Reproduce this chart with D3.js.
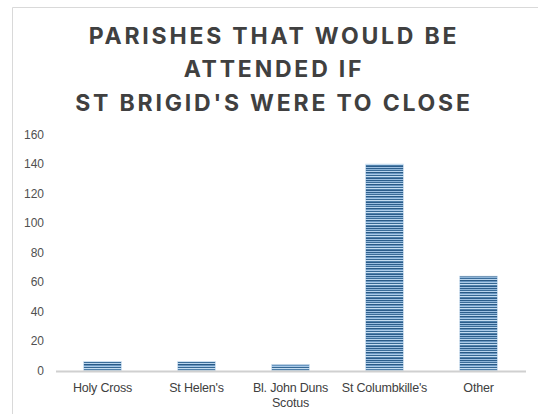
<!DOCTYPE html>
<html><head><meta charset="utf-8">
<script src="https://cdn.jsdelivr.net/npm/d3@7"></script>
<style>body{margin:0;background:#fff}svg{display:block}</style>
</head><body>
<script>
const categories = ["Holy Cross","St Helen's","Bl. John Duns Scotus","St Columbkille's","Other"];
const categoryLines = [["Holy Cross"],["St Helen's"],["Bl. John Duns","Scotus"],["St Columbkille's"],["Other"]];
const values = [6, 6, 4, 140, 64];
const yTicks = [0,20,40,60,80,100,120,140,160];
const titleLines = ["PARISHES THAT WOULD BE","ATTENDED IF","ST BRIGID'S WERE TO CLOSE"];

const W = 538, H = 414;
const svg = d3.select("body").append("svg").attr("width", W).attr("height", H);

// pattern
const defs = svg.append("defs");
const pat = defs.append("pattern").attr("id","stripes").attr("patternUnits","userSpaceOnUse")
  .attr("width", 40).attr("height", 12);
const stripeColors = ["#2d5f8c","#8db4d8","#3b6d99","#b9d5ee","#2a5a86","#6a98c2","#a9c9e8","#356893","#c6ddf1","#4f80ab","#2c5d8a","#9dc0e2"];
pat.selectAll("rect").data(stripeColors).join("rect")
  .attr("x",0).attr("y",(d,i)=>i).attr("width",40).attr("height",1).attr("fill",d=>d);

// border
svg.append("path").attr("d","M12.5,414 L12.5,7.5 L538,7.5").attr("fill","none").attr("stroke","#d9d9d9").attr("stroke-width",1);

// title
svg.append("g").selectAll("text").data(titleLines).join("text")
  .attr("x", 274).attr("y",(d,i)=>43.5 + i*33.5)
  .attr("text-anchor","middle")
  .attr("font-family","Inter, 'Open Sans', sans-serif")
  .attr("font-weight",700).attr("font-size",23).attr("letter-spacing",2.8)
  .attr("fill","#404040").text(d=>d);

const x = d3.scaleBand().domain(categories).range([55.5, 525.5]).paddingInner(0.6).paddingOuter(0.3);
const y = d3.scaleLinear().domain([0,160]).range([370.5, 134.5]);

// y axis labels
const yAxis = d3.axisLeft(y).tickValues(yTicks).tickSize(0).tickPadding(0);
const gy = svg.append("g").attr("transform","translate(44,0)").call(yAxis);
gy.select(".domain").remove();
gy.selectAll("text").attr("font-family","'Liberation Sans', Arial, sans-serif").attr("font-size",12).attr("fill","#505050");

// bars
svg.append("g").selectAll("rect").data(values).join("rect")
  .attr("x",(d,i)=>x(categories[i])).attr("width",x.bandwidth())
  .attr("y",d=>y(d)).attr("height",d=>y(0)-y(d))
  .attr("fill","url(#stripes)").attr("stroke","#c9dcee").attr("stroke-width",0.6);

// x axis
const xAxis = d3.axisBottom(x).tickSize(0).tickFormat("");
const gx = svg.append("g").attr("transform","translate(0,371)").call(xAxis);
gx.select(".domain").attr("stroke","#d0d0d0").attr("stroke-width",2);
const lab = svg.append("g").selectAll("text").data(categories).join("text")
  .attr("x",d=>x(d)+x.bandwidth()/2).attr("y",392)
  .attr("text-anchor","middle")
  .attr("font-family","'Liberation Sans', Arial, sans-serif").attr("font-size",12.5).attr("letter-spacing",-0.2).attr("fill","#404040");
lab.selectAll("tspan").data((d,i)=>categoryLines[i]).join("tspan")
  .attr("x",function(){return this.parentNode.getAttribute("x");})
  .attr("dy",(d,i)=>i===0?0:15).text(d=>d);
</script>
</body></html>
